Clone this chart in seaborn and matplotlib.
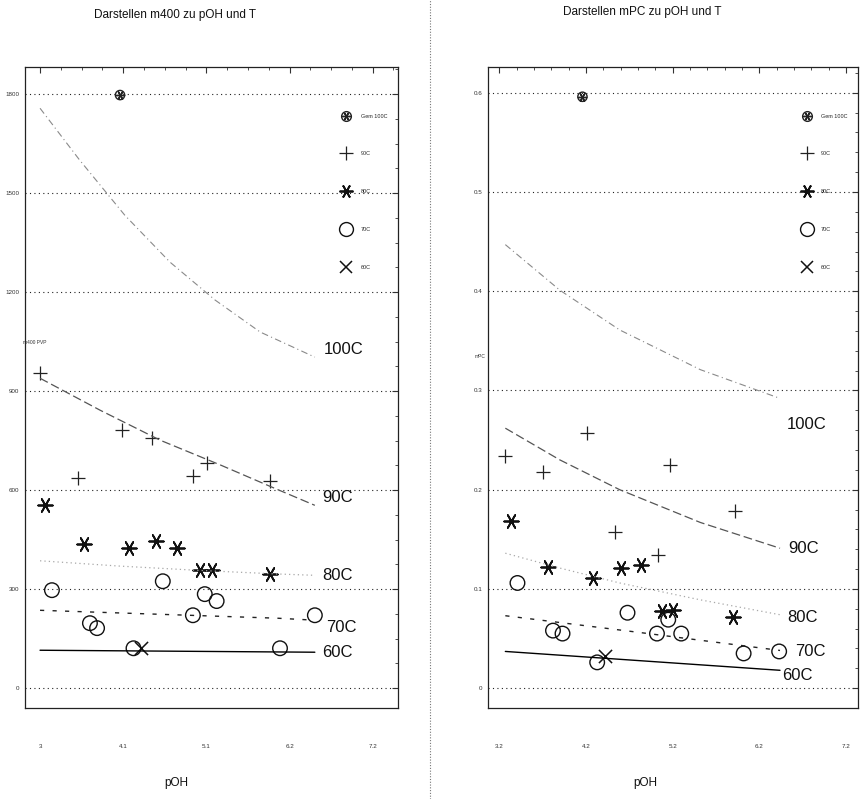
import matplotlib
matplotlib.use("Agg")
import matplotlib.pyplot as plt
from matplotlib.lines import Line2D
import numpy as np
import pandas as pd
import seaborn as sns

sns.set_style("white")
plt.rcParams["font.family"] = ["Liberation Sans", "DejaVu Sans"]

# ---------------- m400 panel ----------------
m400_gem_x = [4.01]
m400_gem_y = [1797]
m400_90_x = [3.0, 3.48, 4.03, 4.41, 4.93, 5.11, 5.90]
m400_90_y = [954, 636, 782, 758, 642, 682, 627]
m400_80_x = [3.06, 3.55, 4.12, 4.47, 4.73, 5.02, 5.17, 5.90]
m400_80_y = [554, 436, 424, 445, 424, 358, 358, 345]
m400_70_x = [3.15, 3.63, 3.72, 4.55, 4.93, 5.08, 5.23, 6.47, 6.03, 4.18]
m400_70_y = [297, 197, 182, 324, 221, 285, 264, 221, 121, 121]
m400_60_x = [4.28]
m400_60_y = [121]

m400_fit_x = {
    "100C": [3.0, 3.50, 4.07, 4.64, 5.21, 5.78, 6.47],
    "90C": [3.0, 3.76, 4.52, 5.28, 5.90, 6.47],
    "80C": [3.0, 4.0, 5.0, 6.0, 6.47],
    "70C": [3.0, 4.0, 5.0, 6.0, 6.47],
    "60C": [3.0, 6.47],
}
m400_fit_y = {
    "100C": [1757, 1600, 1433, 1291, 1176, 1079, 1003],
    "90C": [939, 842, 751, 676, 612, 554],
    "80C": [386, 370, 357, 346, 342],
    "70C": [236, 228, 220, 212, 206],
    "60C": [115, 109],
}
m400_lab_pos = {"100C": (6.58, 1027), "90C": (6.56, 579), "80C": (6.56, 342),
                "70C": (6.61, 185), "60C": (6.56, 109)}
m400_xticks = [3, 4.05, 5.1, 6.15, 7.2]
m400_xticklabels = ["3", "4.1", "5.1", "6.2", "7.2"]
m400_yticks = [0, 300, 600, 900, 1200, 1500, 1800]
m400_yticklabels = ["0", "300", "600", "900", "1200", "1500", "1800"]

# ---------------- mPC panel ----------------
mpc_gem_x = [4.16]
mpc_gem_y = [0.596]
mpc_90_x = [3.27, 3.70, 4.21, 5.17, 4.54, 5.03, 5.92]
mpc_90_y = [0.234, 0.218, 0.257, 0.225, 0.157, 0.134, 0.179]
mpc_80_x = [3.33, 3.76, 4.28, 4.61, 4.83, 5.08, 5.21, 5.90]
mpc_80_y = [0.168, 0.122, 0.111, 0.121, 0.124, 0.078, 0.079, 0.072]
mpc_70_x = [3.41, 3.82, 3.93, 4.68, 5.02, 5.15, 5.30, 6.02, 6.43, 4.33]
mpc_70_y = [0.106, 0.058, 0.055, 0.076, 0.055, 0.069, 0.055, 0.035, 0.037, 0.026]
mpc_60_x = [4.42]
mpc_60_y = [0.032]

mpc_fit_x = {
    "100C": [3.27, 3.90, 4.59, 5.52, 6.44],
    "90C": [3.27, 3.90, 4.59, 5.52, 6.44],
    "80C": [3.27, 3.90, 4.59, 5.52, 6.44],
    "70C": [3.27, 4.83, 6.44],
    "60C": [3.27, 6.44],
}
mpc_fit_y = {
    "100C": [0.447, 0.401, 0.361, 0.321, 0.292],
    "90C": [0.262, 0.230, 0.200, 0.167, 0.141],
    "80C": [0.136, 0.121, 0.106, 0.089, 0.074],
    "70C": [0.073, 0.056, 0.038],
    "60C": [0.037, 0.018],
}
mpc_lab_pos = {"100C": (6.52, 0.266), "90C": (6.53, 0.141), "80C": (6.52, 0.0716),
               "70C": (6.62, 0.0373), "60C": (6.47, 0.0131)}
mpc_xticks = [3.2, 4.2, 5.2, 6.2, 7.2]
mpc_xticklabels = ["3.2", "4.2", "5.2", "6.2", "7.2"]
mpc_yticks = [0, 0.1, 0.2, 0.3, 0.4, 0.5, 0.6]
mpc_yticklabels = ["0", "0.1", "0.2", "0.3", "0.4", "0.5", "0.6"]

legend_labels = ["Gem 100C", "90C", "80C", "70C", "60C"]

asterisk = (6, 2, 90)
fit_styles = {
    "100C": dict(color="#8a8a8a", linestyle=(0, (6, 3, 1, 3)), linewidth=0.8),
    "90C": dict(color="#555555", linestyle=(0, (7, 3)), linewidth=0.9),
    "80C": dict(color="#a8a8a8", linestyle=(0, (1, 2.5)), linewidth=0.9),
    "70C": dict(color="#222222", linestyle=(0, (3, 6)), linewidth=1.0),
    "60C": dict(color="#000000", linestyle="-", linewidth=1.0),
}


def draw_panel(ax, gem, s90, s80, s70, s60, fit_x, fit_y, lab_pos,
               xlim, ylim, xticks, xticklabels, yticks, yticklabels):
    # fitted curves
    for key in ["100C", "90C", "80C", "70C", "60C"]:
        df = pd.DataFrame({"pOH": fit_x[key], "v": fit_y[key]})
        sns.lineplot(data=df, x="pOH", y="v", ax=ax, sort=False, estimator=None,
                     **fit_styles[key])
        ax.text(lab_pos[key][0], lab_pos[key][1], key, fontsize=12,
                ha="left", va="center", color="#111111")
    # measured points
    sns.scatterplot(x=gem[0], y=gem[1], ax=ax, marker="o", s=45,
                    facecolor="none", edgecolor="#222222", linewidth=1.0)
    sns.scatterplot(x=gem[0], y=gem[1], ax=ax, marker=asterisk, s=35,
                    color="#222222", linewidth=1.0)
    sns.scatterplot(x=s90[0], y=s90[1], ax=ax, marker="+", s=110,
                    color="#222222", linewidth=0.9)
    sns.scatterplot(x=s80[0], y=s80[1], ax=ax, marker=asterisk, s=110,
                    color="#111111", linewidth=1.3)
    sns.scatterplot(x=s70[0], y=s70[1], ax=ax, marker="o", s=110,
                    facecolor="none", edgecolor="#111111", linewidth=1.0)
    sns.scatterplot(x=s60[0], y=s60[1], ax=ax, marker="x", s=90,
                    color="#111111", linewidth=1.1)

    ax.set_xlim(*xlim)
    ax.set_ylim(*ylim)
    ax.set_xticks(xticks)
    ax.set_xticklabels(xticklabels)
    ax.set_yticks(yticks)
    ax.set_yticklabels(yticklabels)
    ax.minorticks_on()
    ax.tick_params(which="both", direction="in", top=True, right=True,
                   labelsize=4.5, colors="#333333")
    ax.tick_params(axis="x", which="major", pad=26)
    ax.tick_params(axis="y", which="major", pad=4)
    ax.tick_params(which="major", length=4)
    ax.tick_params(which="minor", length=2)
    ax.grid(axis="y", which="major", linestyle=(0, (1, 3)), color="#222222",
            linewidth=0.8)
    ax.set_xlabel("")
    ax.set_ylabel("")
    for sp in ax.spines.values():
        sp.set_visible(True)
        sp.set_color("#222222")
        sp.set_linewidth(0.9)

    handles = [
        (Line2D([], [], marker="o", mfc="none", mec="#222222", ls="", ms=7),
         Line2D([], [], marker=asterisk, color="#222222", ls="", ms=6)),
        Line2D([], [], marker="+", color="#222222", ls="", ms=10, mew=0.9),
        Line2D([], [], marker=asterisk, color="#111111", ls="", ms=10, mew=1.3),
        Line2D([], [], marker="o", mfc="none", mec="#111111", ls="", ms=10),
        Line2D([], [], marker="x", color="#111111", ls="", ms=9, mew=1.1),
    ]
    ax.legend(handles, legend_labels, loc="upper right",
              bbox_to_anchor=(0.985, 0.935), frameon=False, fontsize=4,
              labelspacing=5.9, handletextpad=1.6, markerscale=1.0)


fig = plt.figure(figsize=(8.63, 7.99), dpi=100)
ax1 = fig.add_axes([25 / 863, 1 - 708 / 799, 373 / 863, 641 / 799])
ax2 = fig.add_axes([488 / 863, 1 - 708 / 799, 370 / 863, 641 / 799])

draw_panel(ax1, (m400_gem_x, m400_gem_y), (m400_90_x, m400_90_y),
           (m400_80_x, m400_80_y), (m400_70_x, m400_70_y), (m400_60_x, m400_60_y),
           m400_fit_x, m400_fit_y, m400_lab_pos, (2.81, 7.52), (-60, 1882),
           m400_xticks, m400_xticklabels, m400_yticks, m400_yticklabels)
draw_panel(ax2, (mpc_gem_x, mpc_gem_y), (mpc_90_x, mpc_90_y),
           (mpc_80_x, mpc_80_y), (mpc_70_x, mpc_70_y), (mpc_60_x, mpc_60_y),
           mpc_fit_x, mpc_fit_y, mpc_lab_pos, (3.07, 7.34), (-0.02, 0.626),
           mpc_xticks, mpc_xticklabels, mpc_yticks, mpc_yticklabels)

# small axis captions
ax1.text(-0.005, (1 - (343 - 67) / 641), "m400 PVP", transform=ax1.transAxes,
         fontsize=3.5, ha="left", va="center", color="#333333")
ax2.text(-0.035, (1 - (357 - 67) / 641), "mPC", transform=ax2.transAxes,
         fontsize=3.5, ha="left", va="center", color="#333333")

fig.text(175 / 863, 1 - 15 / 799, "Darstellen m400 zu pOH und T", fontsize=8.5,
         ha="center", va="center", color="#111111")
fig.text(642 / 863, 1 - 12 / 799, "Darstellen mPC zu pOH und T", fontsize=8.5,
         ha="center", va="center", color="#111111")
fig.text(176 / 863, 1 - 783 / 799, "pOH", fontsize=8.5, ha="center",
         va="center", color="#111111")
fig.text(645 / 863, 1 - 783 / 799, "pOH", fontsize=8.5, ha="center",
         va="center", color="#111111")

fig.add_artist(Line2D([430 / 863, 430 / 863], [0, 1], transform=fig.transFigure,
                      color="#777777", linewidth=0.8, linestyle=(0, (1, 1.5))))

fig.savefig("out.png", dpi=100, facecolor="white")
